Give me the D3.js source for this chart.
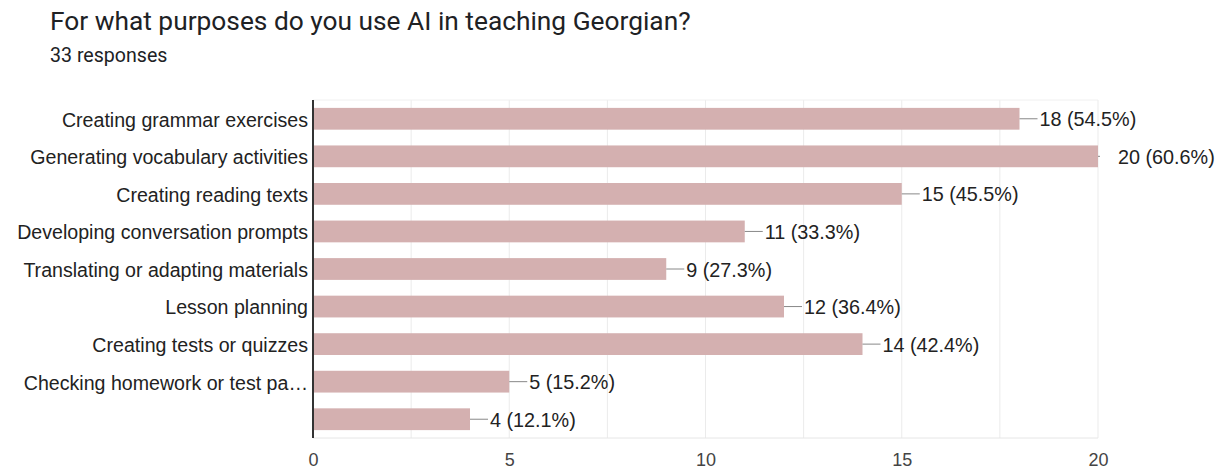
<!DOCTYPE html>
<html>
<head>
<meta charset="utf-8">
<script src="https://cdn.jsdelivr.net/npm/d3@7"></script>
<style>
  body { margin: 0; background: #fff; }
  svg { display: block; }
</style>
</head>
<body>
<svg id="chart" width="1221" height="470"></svg>
<script>
// Survey answers: count of respondents per purpose
const categories = [
  "Creating grammar exercises",
  "Generating vocabulary activities",
  "Creating reading texts",
  "Developing conversation prompts",
  "Translating or adapting materials",
  "Lesson planning",
  "Creating tests or quizzes",
  "Checking homework or test pa\u2026",
  ""
];
const counts = [18, 20, 15, 11, 9, 12, 14, 5, 4];
const percents = ["54.5%", "60.6%", "45.5%", "33.3%", "27.3%", "36.4%", "42.4%", "15.2%", "12.1%"];
const tickValues = [0, 5, 10, 15, 20];
const gridValues = [2.5, 5, 7.5, 10, 12.5, 15, 17.5, 20];

const svg = d3.select("#chart");
const plotLeft = 313, plotRight = 1098, plotTop = 100, plotBottom = 438;
const labelFont = "'Liberation Sans', Arial, sans-serif";

svg.append("text")
  .attr("x", 50).attr("y", 30)
  .attr("font-family", "Roboto, 'Liberation Sans', sans-serif")
  .attr("font-size", 26.3).attr("fill", "#202124")
  .text("For what purposes do you use AI in teaching Georgian?");
svg.append("text")
  .attr("x", 50).attr("y", 62)
  .attr("font-family", "Roboto, 'Liberation Sans', sans-serif")
  .attr("font-size", 19.6).attr("fill", "#202124")
  .text("33 responses");

const x = d3.scaleLinear().domain([0, 20]).range([plotLeft, plotRight]);
const y = d3.scaleBand().domain(d3.range(categories.length)).range([plotTop, plotBottom]).paddingInner(0.42).paddingOuter(0.21);

// gridlines
svg.append("g").selectAll("line").data(gridValues).join("line")
  .attr("x1", d => x(d)).attr("x2", d => x(d))
  .attr("y1", plotTop).attr("y2", plotBottom)
  .attr("stroke", "#ebebeb").attr("stroke-width", 1);
svg.append("line").attr("x1", plotLeft).attr("x2", plotRight).attr("y1", plotTop).attr("y2", plotTop)
  .attr("stroke", "#f0f0f0");
svg.append("line").attr("x1", plotLeft).attr("x2", plotRight).attr("y1", plotBottom).attr("y2", plotBottom)
  .attr("stroke", "#e6e6e6");

// bars
svg.append("g").selectAll("rect").data(counts).join("rect")
  .attr("x", x(0)).attr("y", (d, i) => y(i))
  .attr("width", d => x(d) - x(0)).attr("height", y.bandwidth())
  .attr("fill", "#d4b0b0");

// value annotations with leader lines
const ann = svg.append("g").selectAll("g").data(counts).join("g");
ann.append("line")
  .attr("x1", d => x(d)).attr("x2", d => Math.min(x(d) + 18, plotRight + 2))
  .attr("y1", (d, i) => y(i) + y.bandwidth() / 2).attr("y2", (d, i) => y(i) + y.bandwidth() / 2)
  .attr("stroke", "#888").attr("stroke-width", 1);
ann.append("text")
  .attr("x", d => x(d) + 20).attr("y", (d, i) => y(i) + y.bandwidth() / 2)
  .attr("dy", "0.38em")
  .attr("font-family", labelFont)
  .attr("font-size", 19.8).attr("fill", "#222")
  .text((d, i) => `${d} (${percents[i]})`);

// category labels
svg.append("g").selectAll("text").data(categories).join("text")
  .attr("x", plotLeft - 5).attr("y", (d, i) => y(i) + y.bandwidth() / 2)
  .attr("dy", "0.4em").attr("text-anchor", "end")
  .attr("font-family", labelFont)
  .attr("font-size", 19.6).attr("fill", "#222")
  .text(d => d);

// x tick labels
const xAxis = svg.append("g").attr("transform", `translate(0,${plotBottom})`)
  .call(d3.axisBottom(x).tickValues(tickValues).tickSize(0).tickPadding(15));
xAxis.select(".domain").remove();
xAxis.selectAll("text")
  .attr("font-family", labelFont)
  .attr("font-size", 18).attr("fill", "#444");

// baseline axis
svg.append("line").attr("x1", plotLeft).attr("x2", plotLeft).attr("y1", plotTop).attr("y2", plotBottom)
  .attr("stroke", "#333").attr("stroke-width", 2);
</script>
</body>
</html>
